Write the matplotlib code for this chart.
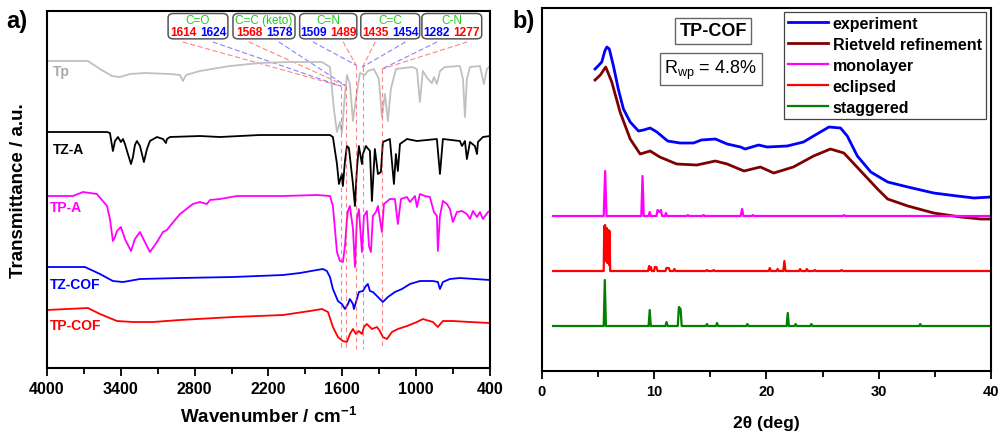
import matplotlib
matplotlib.use('Agg')
import matplotlib.pyplot as plt
from matplotlib.patches import FancyBboxPatch, ConnectionPatch

plt.rcParams['font.family'] = ['Liberation Sans', 'DejaVu Sans']
plt.rcParams['mathtext.fontset'] = 'custom'
plt.rcParams['mathtext.rm'] = 'Liberation Sans'
plt.rcParams['mathtext.it'] = 'Liberation Sans:italic'
plt.rcParams['mathtext.bf'] = 'Liberation Sans:bold'

# ---------------- a) FTIR spectra (wavenumber / cm-1, transmittance a.u., offset) ----------------
tp_wn = [4000, 3667, 3569, 3472, 3407, 3325, 3204, 3000, 2919, 2895,
         2870, 2757, 2513, 2269, 2025, 1765, 1700, 1668, 1643, 1619,
         1603, 1578, 1562, 1538, 1513, 1489, 1456, 1416, 1392, 1343,
         1302, 1278, 1253, 1229, 1205, 1164, 1034, 993, 969, 945,
         904, 871, 855, 831, 806, 766, 644, 619, 603, 587,
         562, 481, 449, 424, 400]
tp_t = [307, 307, 299, 292, 291, 294, 295, 294, 293, 287,
        293, 297, 302, 305, 306, 306, 301, 259, 236, 246,
        235, 274, 293, 284, 247, 269, 295, 293, 297, 299,
        289, 251, 274, 247, 279, 299, 301, 299, 266, 297,
        289, 285, 291, 284, 297, 301, 302, 289, 251, 289,
        301, 302, 284, 299, 302]

tza_wn = [4000, 3789, 3512, 3488, 3464, 3447, 3423, 3399, 3382, 3366,
          3342, 3317, 3301, 3285, 3269, 3244, 3212, 3187, 3163, 3106,
          3057, 3033, 3025, 3000, 2757, 2594, 2269, 1944, 1700, 1676,
          1643, 1627, 1603, 1595, 1578, 1562, 1546, 1513, 1497, 1481,
          1465, 1440, 1432, 1408, 1375, 1359, 1335, 1310, 1286, 1270,
          1213, 1180, 1164, 1148, 1131, 1074, 993, 831, 806, 782,
          644, 627, 603, 587, 562, 522, 505, 497, 457, 400]
tza_t = [236, 236, 236, 235, 217, 227, 231, 226, 229, 224,
         214, 204, 211, 223, 227, 222, 206, 219, 227, 231,
         229, 225, 229, 231, 232, 231, 233, 233, 233, 231,
         204, 184, 194, 182, 207, 222, 220, 184, 162, 199,
         222, 204, 214, 222, 217, 167, 219, 194, 196, 226,
         229, 184, 214, 197, 224, 229, 227, 229, 194, 229,
         227, 222, 227, 209, 226, 222, 214, 226, 231, 232]

tpa_wn = [4000, 3789, 3707, 3594, 3512, 3488, 3464, 3447, 3431, 3399,
          3366, 3317, 3285, 3244, 3204, 3163, 3106, 3057, 3025, 3000,
          2919, 2814, 2757, 2700, 2675, 2594, 2456, 2082, 1806, 1700,
          1676, 1643, 1619, 1595, 1578, 1562, 1554, 1538, 1513, 1497,
          1481, 1465, 1440, 1424, 1400, 1383, 1367, 1351, 1326, 1310,
          1278, 1261, 1213, 1172, 1148, 1123, 1074, 1050, 1009, 993,
          969, 928, 888, 855, 831, 823, 806, 782, 749, 725,
          701, 668, 627, 587, 562, 538, 505, 481, 457, 416,
          400]
tpa_t = [172, 172, 176, 174, 162, 149, 127, 131, 137, 141,
         129, 117, 129, 136, 126, 116, 126, 136, 138, 142,
         154, 164, 166, 164, 168, 169, 172, 172, 173, 172,
         162, 116, 107, 106, 122, 149, 157, 162, 139, 101,
         149, 159, 116, 152, 157, 122, 116, 152, 156, 162,
         136, 164, 169, 169, 144, 169, 171, 166, 172, 161,
         174, 172, 171, 156, 152, 117, 152, 167, 164, 159,
         146, 156, 157, 154, 149, 157, 151, 156, 149, 156,
         157]

tzcof_wn = [4000, 3691, 3569, 3464, 3382, 3244, 2919, 2489, 2082, 1944,
            1806, 1757, 1725, 1700, 1676, 1635, 1603, 1578, 1554, 1538,
            1513, 1505, 1481, 1465, 1432, 1408, 1392, 1375, 1351, 1318,
            1294, 1270, 1229, 1172, 1115, 1050, 969, 863, 823, 806,
            782, 725, 644, 522, 400]
tzcof_t = [101, 101, 94, 87, 86, 89, 90, 91, 93, 95,
           98, 99, 97, 91, 79, 67, 64, 59, 64, 69,
           64, 59, 69, 76, 77, 82, 84, 77, 76, 72,
           69, 66, 71, 76, 79, 84, 87, 87, 86, 79,
           86, 89, 90, 89, 88]

tpcof_wn = [4000, 3667, 3569, 3431, 3301, 3139, 2919, 2489, 2082, 1863,
            1765, 1716, 1676, 1635, 1595, 1562, 1538, 1513, 1489, 1465,
            1440, 1424, 1400, 1359, 1318, 1294, 1270, 1237, 1196, 1148,
            1074, 993, 945, 863, 823, 782, 701, 562, 400]
tpcof_t = [58, 60, 54, 47, 46, 46, 48, 51, 53, 57,
           59, 56, 41, 31, 27, 26, 34, 39, 34, 37,
           34, 41, 44, 39, 41, 37, 31, 29, 36, 39,
           42, 46, 49, 46, 41, 47, 47, 46, 45]

ir_groups = ['C=O', 'C=C (keto)', 'C=N', 'C=C', 'C-N']
tpcof_bands = [1614, 1568, 1489, 1435, 1277]
tzcof_bands = [1624, 1578, 1509, 1454, 1282]
band_top = [282, 282, 303, 301, 299]

# ---------------- b) PXRD (2theta / deg, intensity a.u., offset) ----------------
exp_2t = [4.73, 5.0, 5.33, 5.6, 5.78, 6.0, 6.37, 6.8, 7.26, 7.86,
          8.6, 9.05, 9.64, 10.24, 11.2, 12.3, 13.5, 14.2, 15.45, 16.5,
          17.7, 18.1, 19.3, 20.06, 21.85, 23.3, 24.5, 25.57, 26.6, 27.2,
          28.1, 29.3, 30.8, 32.6, 34.9, 37.0, 38.5, 40.0]
exp_i = [302, 305, 309, 320, 324, 322, 305, 282, 262, 249,
         240, 241, 243, 239, 230, 228, 228, 231, 232, 227,
         224, 222, 226, 224, 225, 229, 237, 244, 243, 235,
         215, 199, 189, 184, 178, 175, 173, 174]

riet_2t = [4.73, 5.2, 5.68, 6.22, 6.96, 7.86, 8.75, 9.64, 10.5, 12.0,
           13.8, 15.45, 16.5, 18.0, 19.46, 20.65, 22.4, 24.2, 25.7, 26.9,
           28.4, 29.9, 30.8, 32.6, 34.9, 37.3, 39.1, 40.0]
riet_i = [291, 296, 304, 289, 259, 232, 217, 220, 214, 207,
          206, 210, 207, 200, 204, 198, 204, 215, 222, 218,
          200, 182, 172, 165, 158, 154, 152, 152]

mono_2t = [1.0, 5.5, 5.63, 5.75, 8.85, 8.96, 9.07, 9.5, 9.6, 9.7,
           10.2, 10.3, 10.45, 10.6, 10.7, 10.95, 11.05, 11.15, 12.9, 13.0,
           13.1, 14.3, 14.4, 14.5, 17.7, 17.83, 17.95, 18.7, 18.8, 18.9,
           26.8, 26.9, 27.0, 40.0]
mono_i = [155, 155, 200, 155, 155, 195, 155, 155, 159, 155,
          155, 161, 159, 161, 155, 155, 158, 155, 155, 156,
          155, 155, 156, 155, 155, 162, 155, 155, 156, 155,
          155, 156, 155, 155]

ecl_2t = [1.0, 5.5, 5.55, 5.58, 5.62, 5.66, 5.7, 5.74, 5.78, 5.82,
          5.86, 5.9, 5.94, 5.98, 6.02, 6.08, 9.45, 9.55, 9.62, 9.7,
          9.8, 10.0, 10.05, 10.2, 10.3, 11.0, 11.1, 11.3, 11.4, 11.7,
          11.8, 11.9, 14.6, 14.7, 14.8, 15.2, 15.3, 15.4, 20.2, 20.3,
          20.4, 20.9, 21.0, 21.1, 21.5, 21.6, 21.7, 22.9, 23.0, 23.1,
          23.5, 23.6, 23.7, 24.2, 24.3, 24.4, 26.6, 26.7, 26.8, 40.0]
ecl_i = [100, 100, 145, 110, 146, 112, 143, 110, 143, 108,
         141, 108, 141, 106, 140, 100, 100, 105, 101, 104,
         100, 100, 104, 104, 100, 100, 103, 103, 100, 100,
         102, 100, 100, 101, 100, 100, 101, 100, 100, 103,
         100, 100, 102, 100, 100, 110, 100, 100, 102, 100,
         100, 102, 100, 100, 101, 100, 100, 101, 100, 100]

stag_2t = [1.0, 5.5, 5.6, 5.7, 9.5, 9.6, 9.7, 11.0, 11.1, 11.2,
           12.1, 12.2, 12.35, 12.45, 14.6, 14.7, 14.8, 15.5, 15.6, 15.7,
           18.2, 18.3, 18.4, 21.8, 21.9, 22.0, 22.5, 22.6, 22.7, 23.9,
           24.0, 24.1, 33.6, 33.7, 33.8, 40.0]
stag_i = [45, 45, 91, 45, 45, 61, 45, 45, 49, 45,
          45, 64, 62, 45, 45, 47, 45, 45, 48, 45,
          45, 47, 45, 45, 58, 45, 45, 47, 45, 45,
          47, 45, 45, 47, 45, 45]

fig = plt.figure(figsize=(9.99, 4.35), dpi=100)
ax1 = fig.add_axes([0.047, 0.1517, 0.4434, 0.8207])
ax2 = fig.add_axes([0.5425, 0.1448, 0.4494, 0.8345])

# ---------- panel a ----------
ax1.plot(tp_wn, tp_t, color='#c0c0c0', lw=1.3)
ax1.plot(tza_wn, tza_t, color='black', lw=1.3)
ax1.plot(tpa_wn, tpa_t, color='#ff00ff', lw=1.3)
ax1.plot(tzcof_wn, tzcof_t, color='#0000ff', lw=1.3)
ax1.plot(tpcof_wn, tpcof_t, color='#ff0000', lw=1.3)

lab_kw = dict(fontsize=10, fontweight='bold', va='center', ha='left')
ax1.text(3950, 297, 'Tp', color='#a8a8a8', **lab_kw)
ax1.text(3950, 219, 'TZ-A', color='black', **lab_kw)
ax1.text(3975, 161, 'TP-A', color='#ff00ff', **lab_kw)
ax1.text(3975, 84, 'TZ-COF', color='#0000ff', **lab_kw)
ax1.text(3975, 43, 'TP-COF', color='#ff0000', **lab_kw)

box_cx = [0.341, 0.490, 0.635, 0.775, 0.914]
box_w = [0.135, 0.14, 0.129, 0.133, 0.135]
blue_left = [False, False, True, False, True]
for i, g in enumerate(ir_groups):
    cx = box_cx[i]
    w = box_w[i]
    ax1.add_patch(FancyBboxPatch((cx - w / 2, 0.922), w, 0.071,
                                 boxstyle='round,pad=0,rounding_size=0.012',
                                 transform=ax1.transAxes, fc='white',
                                 ec='#555555', lw=1.1, zorder=5))
    ax1.text(cx, 0.975, g, color='#22cc22', fontsize=8.5, ha='center', va='center',
             transform=ax1.transAxes, zorder=6)
    off = 0.034
    rx = cx + off if blue_left[i] else cx - off
    bx = cx - off if blue_left[i] else cx + off
    ax1.text(rx, 0.942, str(tpcof_bands[i]), color='#ff0000', fontsize=8.6,
             fontweight='bold', ha='center', va='center', transform=ax1.transAxes, zorder=6)
    ax1.text(bx, 0.942, str(tzcof_bands[i]), color='#0000ff', fontsize=8.6,
             fontweight='bold', ha='center', va='center', transform=ax1.transAxes, zorder=6)
    for sx, col in ((rx, '#ff3333'), (bx, '#3333ff')):
        con = ConnectionPatch(xyA=(sx, 0.913), coordsA=ax1.transAxes,
                              xyB=(tpcof_bands[i], band_top[i]), coordsB=ax1.transData,
                              color=col, lw=0.8, ls=(0, (4, 3)), alpha=0.6)
        ax1.add_artist(con)
    ax1.plot([tpcof_bands[i], tpcof_bands[i]], [band_top[i], 19], color='#ff3333',
             lw=0.8, ls=(0, (4, 3)), alpha=0.6)

ax1.set_xlim(4000, 400)
ax1.set_ylim(0, 357)
ax1.set_xticks([4000, 3400, 2800, 2200, 1600, 1000, 400])
ax1.set_xticks(range(400, 4001, 300), minor=True)
ax1.set_yticks([])
ax1.set_xlabel('Wavenumber / cm$^{\\mathbf{-1}}$', fontsize=13.5, fontweight='bold', labelpad=7)
ax1.set_ylabel('Transmittance / a.u.', fontsize=13.5, fontweight='bold')
ax1.yaxis.set_label_coords(-0.045, 0.5)

# ---------- panel b ----------
ax2.plot(exp_2t, exp_i, color='#0000ff', lw=2, label='experiment')
ax2.plot(riet_2t, riet_i, color='#7f0000', lw=2, label='Rietveld refinement')
ax2.plot(mono_2t, mono_i, color='#ff00ff', lw=1.6, label='monolayer')
ax2.plot(ecl_2t, ecl_i, color='#ff0000', lw=1.6, label='eclipsed')
ax2.plot(stag_2t, stag_i, color='#007f00', lw=1.6, label='staggered')

leg = ax2.legend(loc='upper right', bbox_to_anchor=(0.988, 0.99), borderaxespad=0,
                 fancybox=False, edgecolor='#444444', framealpha=1,
                 prop={'weight': 'bold', 'size': 11.5}, handlelength=2.5,
                 handletextpad=0.3, labelspacing=0.38, borderpad=0.25)
leg.get_frame().set_linewidth(0.9)

ax2.text(0.381, 0.937, 'TP-COF', transform=ax2.transAxes, fontsize=13, fontweight='bold',
         ha='center', va='center',
         bbox=dict(boxstyle='square,pad=0.25', fc='white', ec='#666666', lw=1))
ax2.text(0.376, 0.832, 'R$_{\\mathrm{wp}}$ = 4.8%', transform=ax2.transAxes, fontsize=13,
         ha='center', va='center',
         bbox=dict(boxstyle='square,pad=0.25', fc='white', ec='#666666', lw=1))

ax2.set_xlim(0, 40)
ax2.set_ylim(0, 363)
ax2.set_xticks([0, 10, 20, 30, 40])
ax2.set_xticks([5, 15, 25, 35], minor=True)
ax2.set_yticks([])
ax2.set_xlabel('2\u03b8 (deg)', fontsize=12.5, fontweight='bold', labelpad=12)

for ax in (ax1, ax2):
    for s in ax.spines.values():
        s.set_linewidth(1.5)
    ax.tick_params(axis='x', which='major', direction='out', length=6, width=1.3,
                   labelsize=11.5)
    ax.tick_params(axis='x', which='minor', direction='out', length=4, width=1.3)
    for t in ax.get_xticklabels():
        t.set_fontweight('bold')
ax2.tick_params(axis='x', labelsize=10.5)

fig.text(0.006, 0.95, 'a)', fontsize=17, fontweight='bold', va='center')
fig.text(0.513, 0.95, 'b)', fontsize=17, fontweight='bold', va='center')

fig.savefig('out.png', dpi=100)
